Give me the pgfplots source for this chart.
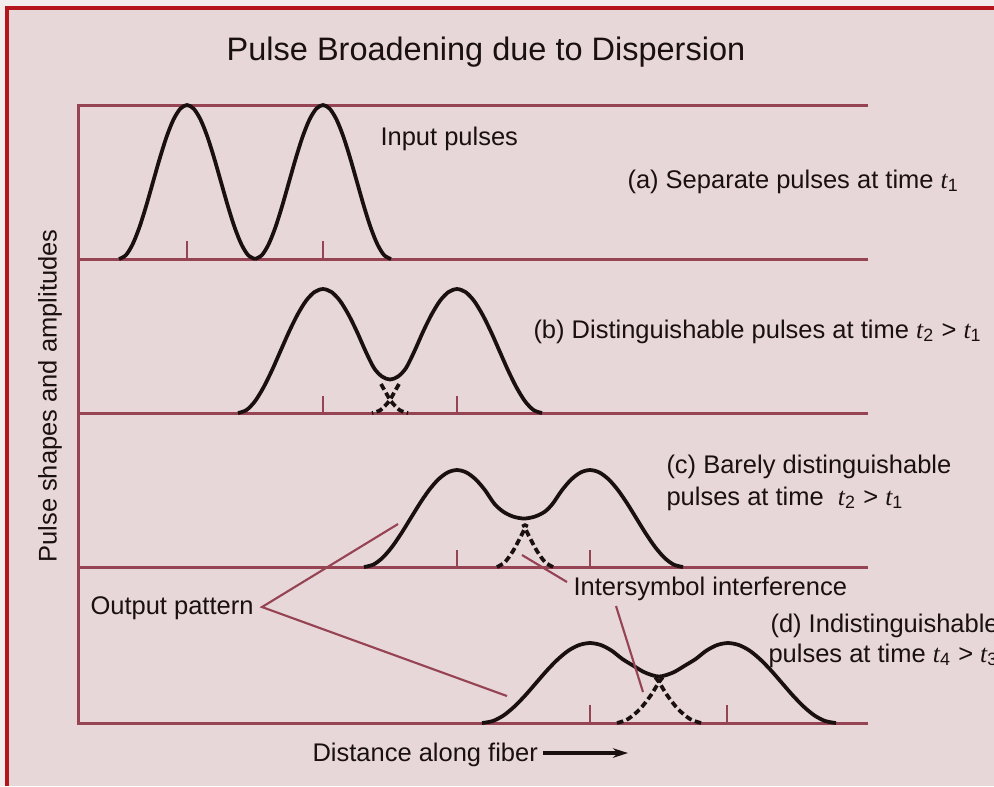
\documentclass[border=0pt]{standalone}
\usepackage{fontspec}
\setmainfont{Liberation Sans}
\newfontfamily\serif{Liberation Serif}
\usepackage{pgfplots}
\pgfplotsset{compat=1.18}
\usetikzlibrary{arrows.meta}
\definecolor{bg}{HTML}{E7D7D8}
\definecolor{paper}{HTML}{F3EDED}
\definecolor{frame}{HTML}{964354}
\definecolor{border}{HTML}{B5161E}
\definecolor{ink}{HTML}{1A1010}
\newcommand{\tm}[1]{{\serif\itshape t}\textsubscript{#1}}
\tikzset{
  lab/.style={font=\fontsize{10.2}{12}\selectfont, text=ink, inner sep=0pt, anchor=base west},
  pulse/.style={ink, line width=1.5pt, smooth, tension=0.5},
  ghost/.style={pulse, dash pattern=on 2.6pt off 1.4pt},
  lead/.style={frame, line width=0.85pt},
}
\begin{document}
\begin{tikzpicture}
% page background (pixel grid: 1px = 0.4pt)
\fill[paper] (0,0) rectangle (397.6pt,314.4pt);
\fill[bg] (3.2pt,0) rectangle (397.6pt,310.8pt);
\begin{axis}[width=397.6pt, height=314.4pt, scale only axis,
  xmin=0, xmax=994, ymin=0, ymax=786, y dir=reverse,
  hide axis, clip=false]

% red border
\draw[border, line width=1.6pt] (axis cs:7,786) -- (axis cs:7,8) -- (axis cs:994,8);

% panel frame and baselines
\addplot[frame, line width=1.2pt, unbounded coords=jump] coordinates {
  (868,105)(78,105)(78,723)(868,723) (0,nan)
  (78,259)(868,259) (0,nan)
  (78,413)(868,413) (0,nan)
  (78,567)(868,567)};
% pulse centre ticks
\addplot[frame, line width=0.85pt, unbounded coords=jump] coordinates {
  (187,259)(187,241) (0,nan) (323,259)(323,241) (0,nan)
  (323,413)(323,396) (0,nan) (457,413)(457,396) (0,nan)
  (457,567)(457,550) (0,nan) (590,567)(590,550) (0,nan)
  (590,723)(590,705) (0,nan) (727,723)(727,705)};

% (a) input pulses
\addplot[pulse] coordinates {(119,259)(125.8,255.2)(132.6,244.3)(139.4,227.3)(146.2,205.8)(153,182)(159.8,158.2)(166.6,136.7)(173.4,119.7)(180.2,108.8)(187,105)(193.8,108.8)(200.6,119.7)(207.4,136.7)(214.2,158.2)(221,182)(227.8,205.8)(234.6,227.3)(241.4,244.3)(248.2,255.2)(255,259)};
\addplot[pulse] coordinates {(255,259)(261.8,255.2)(268.6,244.3)(275.4,227.3)(282.2,205.8)(289,182)(295.8,158.2)(302.6,136.7)(309.4,119.7)(316.2,108.8)(323,105)(329.8,108.8)(336.6,119.7)(343.4,136.7)(350.2,158.2)(357,182)(363.8,205.8)(370.6,227.3)(377.4,244.3)(384.2,255.2)(391,259)};

% (b)
\addplot[pulse] coordinates {(238,413)(246.5,410)(255,401.2)(263.5,387.4)(272,370.2)(280.5,351)(289,331.8)(297.5,314.6)(306,300.8)(314.5,292)(323,289)(331.5,292)(340,300.8)(348.5,314.6)(357,331.8)(365.5,351)(374,368)(382,376.5)(390,379.5)(398,376.5)(406,368)(414.5,351)(423,331.8)(431.5,314.6)(440,300.8)(448.5,292)(457,289)(465.5,292)(474,300.8)(482.5,314.6)(491,331.8)(499.5,351)(508,370.2)(516.5,387.4)(525,401.2)(533.5,410)(542,413)};
\addplot[ghost] coordinates {(381,384)(385,391)(391,401.2)(399.5,410)(408,413)};
\addplot[ghost] coordinates {(399,384)(395,391)(389,401.2)(380.5,410)(372,413)};

% (c)
\addplot[pulse] coordinates {(364,567)(373.3,564.6)(382.6,557.7)(391.9,547)(401.2,533.5)(410.5,518.5)(419.8,503.5)(429.1,490)(438.4,479.3)(447.7,472.4)(457,470)(466.3,472.4)(475.6,479.3)(484.9,490)(494.2,503.5)(503,511.5)(513,516.5)(524,518.5)(535,516.5)(545,511.5)(552.8,503.5)(562.1,490)(571.4,479.3)(580.7,472.4)(590,470)(599.3,472.4)(608.6,479.3)(617.9,490)(627.2,503.5)(636.5,518.5)(645.8,533.5)(655.1,547)(664.4,557.7)(673.7,564.6)(683,567)};
\addplot[ghost] coordinates {(497,567)(505,562)(513,551)(520,538)(527,524)};
\addplot[ghost] coordinates {(553,567)(545,562)(537,551)(530,538)(523,524)};

% (d)
\addplot[pulse] coordinates {(482,723)(492.8,721)(503.6,715.4)(514.4,706.5)(525.2,695.4)(536,683)(546.8,670.6)(557.6,659.5)(568.4,650.6)(579.2,645)(590,643)(600.8,645)(611.6,650.6)(622.4,659)(633,665.5)(645,672.5)(659,676.5)(673,672.5)(685,665.5)(695.6,659)(706.4,650.6)(717.2,645)(728,643)(738.8,645)(749.6,650.6)(760.4,659.5)(771.2,670.6)(782,683)(792.8,695.4)(803.6,706.5)(814.4,715.4)(825.2,721)(836,723)};
\addplot[ghost] coordinates {(617,723)(628,719)(640,709)(651,695)(659,682)(663,677)};
\addplot[ghost] coordinates {(701,723)(690,719)(678,709)(667,695)(659,682)(655,677)};

% leader lines
\draw[lead] (axis cs:398,524) -- (axis cs:262,607) -- (axis cs:507,696);
\draw[lead] (axis cs:567,582) -- (axis cs:522,555);
\draw[lead] (axis cs:616,606) -- (axis cs:643,692);

% texts
\node[font=\fontsize{13}{15}\selectfont, text=ink, inner sep=0pt, anchor=base] at (axis cs:486,60) {Pulse Broadening due to Dispersion};
\node[lab] at (axis cs:380,145) {Input pulses};
\node[lab] at (axis cs:627,188) {(a) Separate pulses at time \tm{1}};
\node[lab] at (axis cs:533,338) {(b) Distinguishable pulses at time \tm{2} > \tm{1}};
\node[lab] at (axis cs:666,473) {(c) Barely distinguishable};
\node[lab] at (axis cs:666,505) {pulses at time \ \tm{2} > \tm{1}};
\node[lab] at (axis cs:573,595) {Intersymbol interference};
\node[lab] at (axis cs:90,614) {Output pattern};
\node[lab] at (axis cs:770,632) {(d) Indistinguishable};
\node[lab] at (axis cs:768,662) {pulses at time \tm{4} > \tm{3}};
\node[lab, rotate=90, anchor=center] at (axis cs:50,396) {Pulse shapes and amplitudes};
\node[lab] at (axis cs:312,761) {Distance along fiber};
\draw[ink, line width=1.3pt, -{Stealth[length=6pt,width=3.8pt]}] (axis cs:543,753) -- (axis cs:628,753);
\end{axis}
\pgfresetboundingbox
\path[use as bounding box] (0,0) rectangle (397.6pt,314.4pt);
\end{tikzpicture}
\end{document}
